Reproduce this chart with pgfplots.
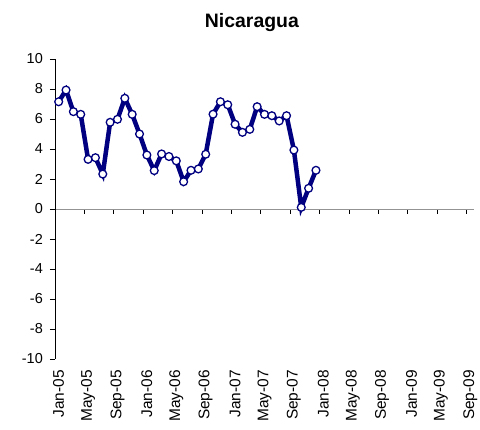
\documentclass[border=0pt]{standalone}
\usepackage{fontspec}
\setmainfont{Liberation Sans}
\usepackage{pgfplots}
\usepackage{pgfplotstable}
\pgfplotsset{compat=1.18}
\definecolor{navy}{HTML}{000080}

% monthly values, 0 = Jan-05
\pgfplotstableread{
m v
0 7.15
1 7.93
2 6.49
3 6.31
4 3.31
5 3.42
6 2.33
7 5.78
8 5.98
9 7.38
10 6.31
11 5.00
12 3.60
13 2.56
14 3.67
15 3.50
16 3.21
17 1.82
18 2.58
19 2.67
20 3.65
21 6.32
22 7.15
23 6.95
24 5.65
25 5.11
26 5.31
27 6.82
28 6.31
29 6.22
30 5.87
31 6.22
32 3.93
33 0.11
34 1.38
35 2.58
}\nicdata

\begin{document}
\begin{tikzpicture}
\pgfplotsset{every axis/.append style={
  scale only axis, width=419bp, height=300bp,
  xmin=-0.5, xmax=56.5, ymin=-10, ymax=10,
  font=\fontsize{14.5}{16}\selectfont}}
\begin{axis}[
  axis y line=left, axis x line=middle, axis line style={-},
  y axis line style={black, line width=0.8pt},
  x axis line style={draw=gray!85, line width=1pt},
  tick align=outside, major tick length=5bp,
  xtick={-0.5,3.5,...,55.5}, xticklabels={},
  xtick style={black, line width=0.8pt},
  ytick style={black, line width=0.8pt},
  ytick={-10,-8,...,10}, yticklabels={-10,-8,-6,-4,-2,0,2,4,6,8,10},
  yticklabel style={anchor=east, inner sep=0pt}, yticklabel shift=7bp,
  title={Nicaragua},
  title style={at={(axis description cs:0.47,1.103)}, anchor=center,
    font=\fontsize{19.5}{21}\selectfont\bfseries},
  clip=false,
]
\addplot[navy, line width=4.5bp, mark=*, mark size=3.9bp,
  mark options={fill=white, draw=navy, line width=1.3bp}]
  table[x=m, y=v]{\nicdata};
\end{axis}
\begin{axis}[
  axis x line=bottom, hide y axis, x axis line style={draw=none},
  major tick length=0pt,
  xtick={0,4,...,56},
  xticklabels={Jan-05,May-05,Sep-05,Jan-06,May-06,Sep-06,Jan-07,May-07,Sep-07,Jan-08,May-08,Sep-08,Jan-09,May-09,Sep-09},
  xticklabel style={rotate=90, anchor=east, inner sep=0pt,
    font=\fontsize{15.5}{17}\selectfont}, xticklabel shift=11bp,
]
\end{axis}
\path (current axis.south west) ++(-55bp,-71bp) rectangle ++(480bp,430bp);
\end{tikzpicture}
\end{document}
